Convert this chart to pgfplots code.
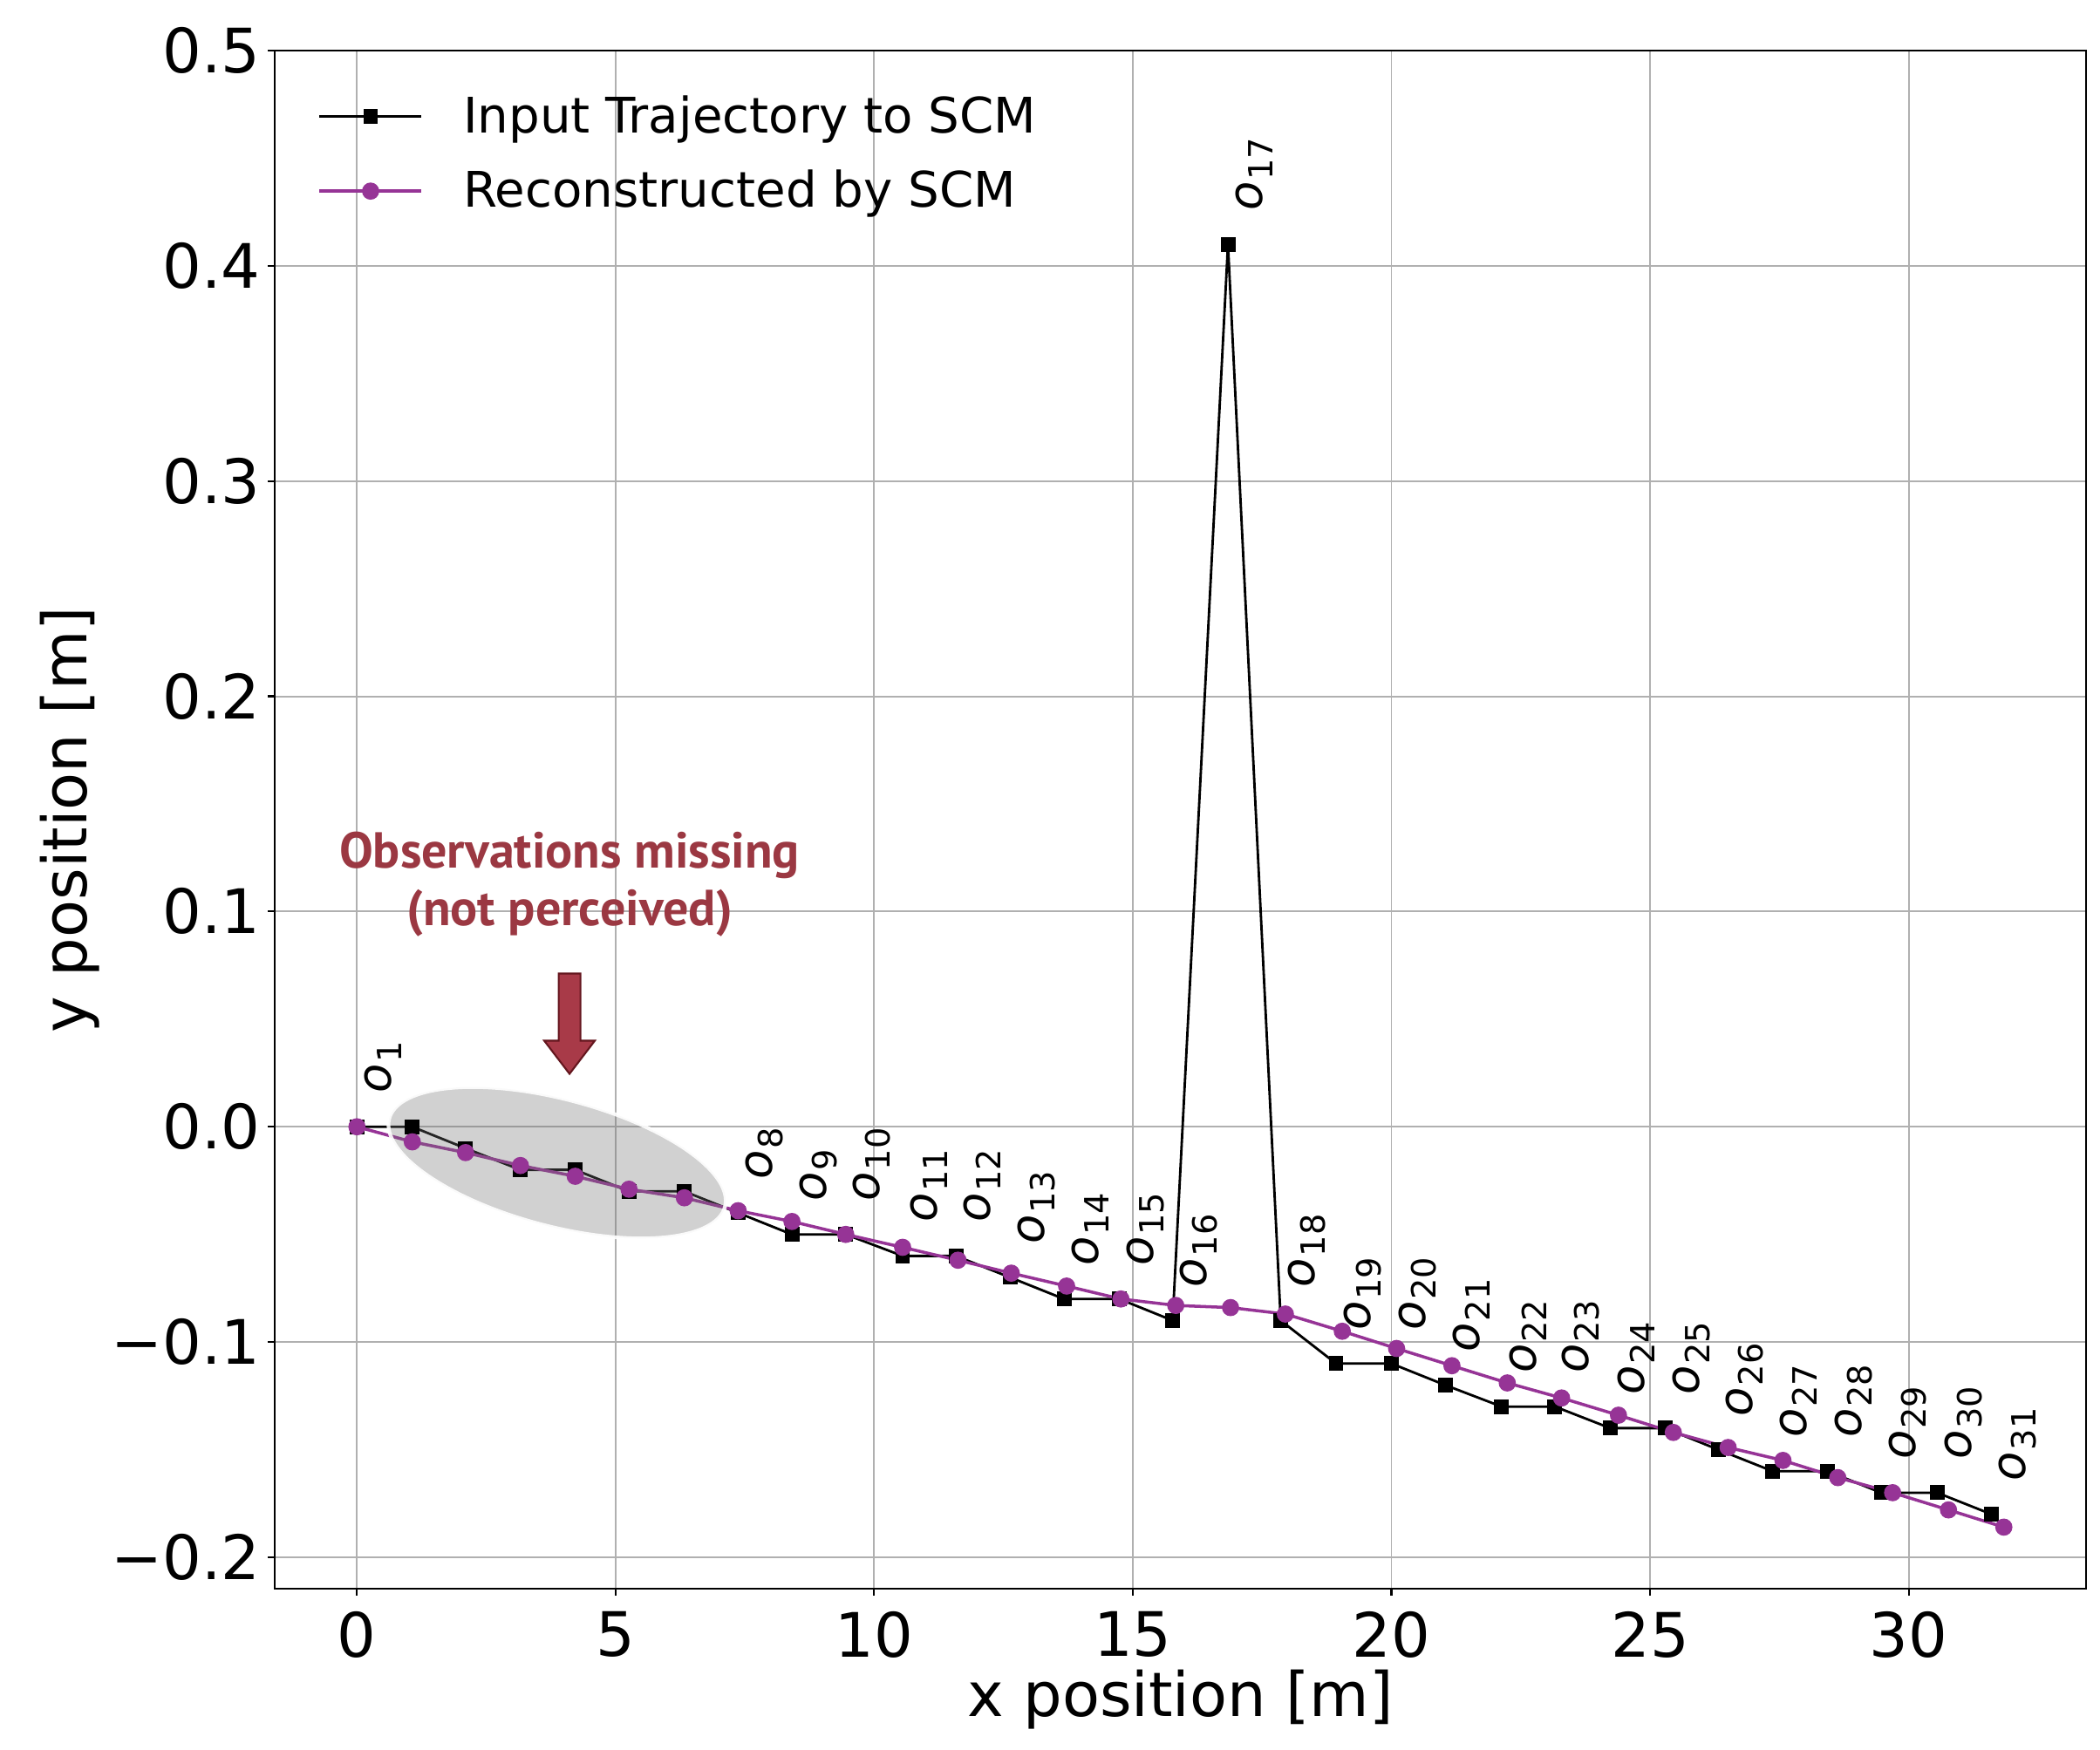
\documentclass[border=0pt]{standalone}
\usepackage{fontspec}
\setmainfont{DejaVu Sans}
\newfontfamily\ptsans{PT Sans}
\usepackage{pgfplots}
\pgfplotsset{compat=1.18}
\usepackage{pgfplotstable}
\usetikzlibrary{shapes.geometric}
\definecolor{scmpurple}{RGB}{150,52,150}
\definecolor{annred}{RGB}{155,56,66}
\definecolor{arrowfill}{RGB}{168,58,72}
\definecolor{arrowedge}{RGB}{100,22,30}
\newcommand\olab[1]{{\itshape o}\kern0.03em\raisebox{-0.22em}{\fontsize{10.9}{12}\selectfont #1}}

\pgfplotstableread{
x y lab
0.00 0.00 \olab{1}
1.07 0.00 {}
2.10 -0.01 {}
3.16 -0.02 {}
4.22 -0.02 {}
5.26 -0.03 {}
6.33 -0.03 {}
7.37 -0.04 \olab{8}
8.41 -0.05 \olab{9}
9.45 -0.05 \olab{10}
10.55 -0.06 \olab{11}
11.58 -0.06 \olab{12}
12.63 -0.07 \olab{13}
13.67 -0.08 \olab{14}
14.74 -0.08 \olab{15}
15.77 -0.09 \olab{16}
16.84 0.41 \olab{17}
17.86 -0.09 \olab{18}
18.93 -0.11 \olab{19}
20.00 -0.11 \olab{20}
21.04 -0.12 \olab{21}
22.13 -0.13 \olab{22}
23.16 -0.13 \olab{23}
24.23 -0.14 \olab{24}
25.29 -0.14 \olab{25}
26.32 -0.15 \olab{26}
27.37 -0.16 \olab{27}
28.43 -0.16 \olab{28}
29.47 -0.17 \olab{29}
30.55 -0.17 \olab{30}
31.60 -0.18 \olab{31}
}\inputtraj

\pgfplotstableread{
x y
0.00 0.000
1.07 -0.007
2.10 -0.012
3.16 -0.018
4.22 -0.023
5.26 -0.029
6.33 -0.033
7.37 -0.039
8.41 -0.044
9.45 -0.050
10.55 -0.056
11.62 -0.062
12.65 -0.068
13.72 -0.074
14.77 -0.080
15.83 -0.083
16.89 -0.084
17.95 -0.087
19.05 -0.095
20.10 -0.103
21.17 -0.111
22.24 -0.119
23.29 -0.126
24.39 -0.134
25.45 -0.142
26.51 -0.149
27.57 -0.155
28.63 -0.163
29.69 -0.170
30.77 -0.178
31.84 -0.186
}\recon

\begin{document}
\begin{tikzpicture}
\useasboundingbox (0,0) rectangle (240.8mm,200.6mm);
\begin{axis}[
  at={(31.5mm,18.4mm)}, anchor=south west,
  scale only axis, width=207.7mm, height=176.4mm,
  xmin=-1.59, xmax=33.43, ymin=-0.2146, ymax=0.5,
  xtick={0,5,10,15,20,25,30},
  xticklabels={0,5,10,15,20,25,30},
  ytick={-0.2,-0.1,0,0.1,0.2,0.3,0.4,0.5},
  yticklabels={−0.2,−0.1,0.0,0.1,0.2,0.3,0.4,0.5},
  tick align=outside, xtick pos=bottom, ytick pos=left,
  major tick length=0.8mm,
  tick style={black, line width=0.6pt},
  axis line style={black, line width=0.7pt},
  grid=major,
  major grid style={color=black!31, line width=0.55pt},
  ticklabel style={font=\fontsize{20}{24}\selectfont},
  xticklabel style={anchor=north, inner sep=0pt, yshift=-1.8mm},
  yticklabel style={anchor=east, inner sep=0pt, xshift=-0.8mm},
  xlabel={x position [m]},
  ylabel={y position [m]},
  label style={font=\fontsize{20}{24}\selectfont},
  xlabel style={at={(axis description cs:0.5,0)}, anchor=base, inner sep=0pt, yshift=-14.6mm},
  ylabel style={at={(axis description cs:0,0.5)}, anchor=base, inner sep=0pt, yshift=21.5mm},
  legend style={at={(axis description cs:0,1)}, anchor=north west, xshift=4.9mm, yshift=-5.1mm,
    draw=none, fill=none, font=\fontsize{16}{19}\selectfont, row sep=3.75mm, inner sep=0pt,
    nodes={inner sep=0pt}, cells={anchor=west},
    /tikz/every odd column/.append style={column sep=4.6mm}},
  legend image code/.code={\draw[mark repeat=2,mark phase=2] plot coordinates {(0mm,0mm) (5.85mm,0mm) (11.7mm,0mm)};},
  clip=false,
]
\addplot[black, line width=0.8pt, mark=square*, mark size=2pt,
  nodes near coords, point meta=explicit symbolic,
  nodes near coords style={xshift=3mm, yshift=3.7mm, rotate=90, anchor=west, inner sep=0pt,
    font=\fontsize{15.5}{18}\selectfont, text=black}]
  table[x=x, y=y, meta=lab] {\inputtraj};
\addlegendentry{Input Trajectory to SCM}
\addplot[scmpurple, line width=1pt, mark=*, mark size=2.3pt]
  table[x=x, y=y] {\recon};
\addlegendentry{Reconstructed by SCM}

\node[ellipse, minimum width=39.8mm, minimum height=14.6mm, rotate=-14.7,
  fill=black!55, fill opacity=0.33, draw=white, draw opacity=0.9, line width=1.2pt]
  at (axis cs:3.87,-0.0167) {};

\filldraw[fill=arrowfill, draw=arrowedge, line width=0.6pt]
  (axis cs:4.11,0.0246) -- ++(-2.9mm,3.8mm) -- ++(1.65mm,0mm) -- ++(0mm,7.7mm)
  -- ++(2.5mm,0mm) -- ++(0mm,-7.7mm) -- ++(1.65mm,0mm) -- cycle;

\node[align=center, font=\ptsans\bfseries\fontsize{16.5}{18.8}\selectfont, text=annred, inner sep=0pt]
  at (axis cs:4.11,0.1126) {Observations missing\\(not perceived)};
\end{axis}
\end{tikzpicture}
\end{document}
